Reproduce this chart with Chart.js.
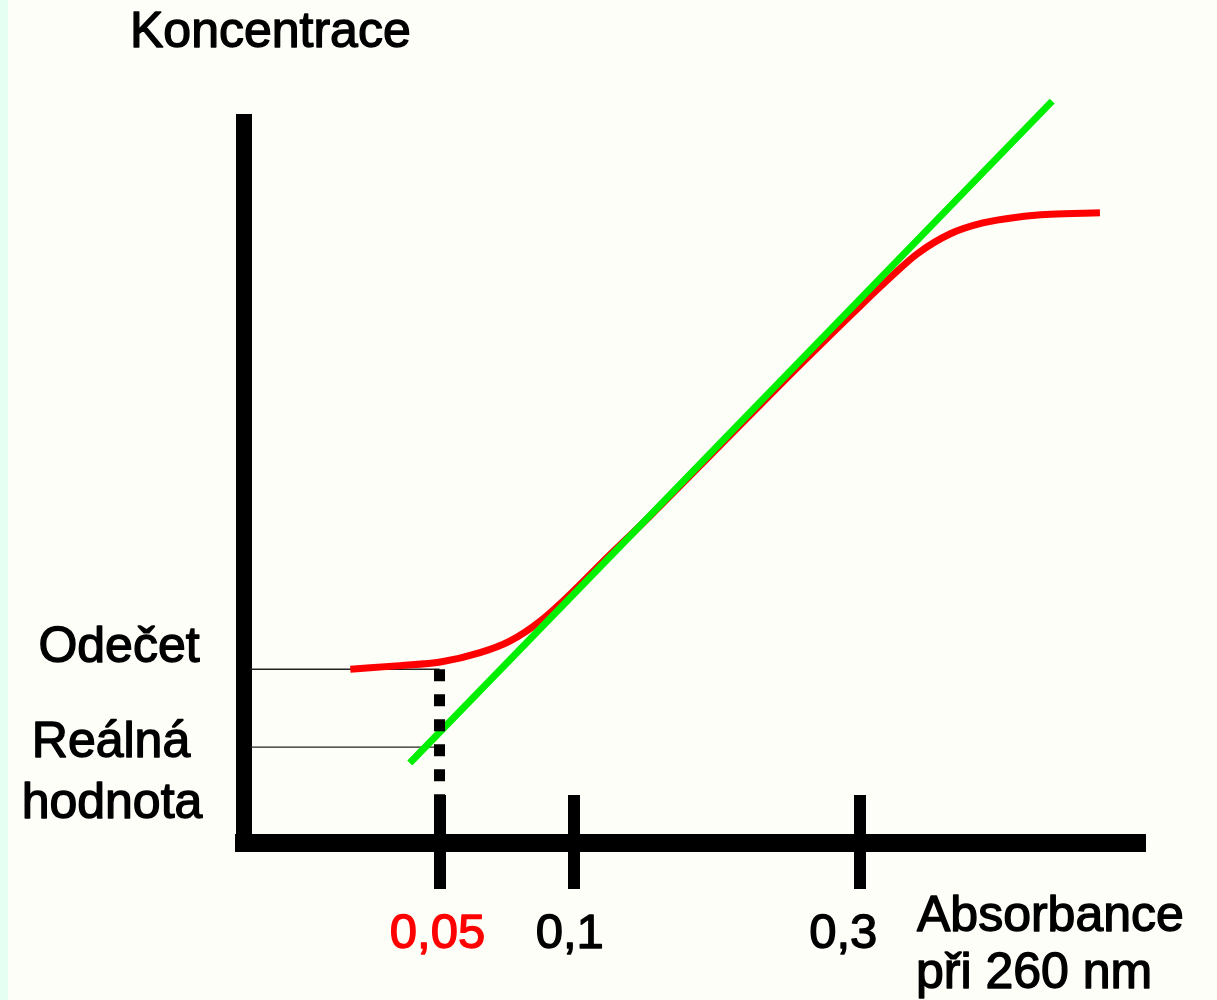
<!DOCTYPE html>
<html>
<head>
<meta charset="utf-8">
<script src="https://cdn.jsdelivr.net/npm/chart.js@4/dist/chart.umd.min.js"></script>
<style>
  html, body { margin: 0; padding: 0; }
  body {
    width: 1217px; height: 1000px; overflow: hidden;
    background: linear-gradient(to right, #e6fff3 0, #e6fff3 8px, #fefef9 8px);
  }
  canvas { display: block; }
</style>
</head>
<body>
<canvas id="chart" width="1217" height="1000"></canvas>
<script>
// Schematic absorbance axis: positions in arbitrary units (0–100), labelled with absorbance
const xTickValues = [21.7, 36.6, 68.4];
const xTickLabels = ['0,05', '0,1', '0,3'];

// Measured calibration curve (red): flattens at low and high absorbance
const curveX = [11.8, 17.3, 21.8, 26.2, 29.5, 32.9, 36.2, 39.5, 45.1, 52.8, 61.7, 68.4, 71.7, 74.7, 78.4, 82.0, 85.8, 89.5, 95.0];
const curveY = [24.1, 24.6, 25.1, 26.4, 28.0, 30.8, 34.5, 38.6, 45.4, 55.1, 66.3, 74.5, 78.4, 81.7, 84.5, 86.0, 86.8, 87.2, 87.4];

// Ideal linear relation (green)
const lineX = [18.4, 89.7];
const lineY = [11.1, 102.9];

const readValue = 24.1;   // Odečet
const realValue = 13.3;   // Reálná hodnota

const FONT = '"Liberation Sans", Arial, sans-serif';
const tickLabelColors = ['#ff0000', '#000000', '#000000'];
const tickLabelShift = [-2, -4, -17];

const toPoints = (xs, ys) => xs.map((x, i) => ({ x, y: ys[i] }));

// Slightly heavier text: fill plus a thin outline in the same colour
function heavyText(ctx, text, x, y, color) {
  ctx.fillStyle = color;
  ctx.strokeStyle = color;
  ctx.lineWidth = 1.4;
  ctx.lineJoin = 'round';
  ctx.fillText(text, x, y);
  ctx.strokeText(text, x, y);
}

const annotations = {
  id: 'annotations',
  afterDatasetsDraw(chart) {
    const { ctx, scales: { x, y } } = chart;
    const axisY = y.getPixelForValue(0);
    ctx.save();
    // tick marks crossing the absorbance axis
    ctx.fillStyle = '#000';
    x.ticks.forEach((t) => {
      const px = x.getPixelForValue(t.value);
      ctx.fillRect(Math.round(px - 6), axisY - 48, 12, 94);
    });
    // tick labels
    ctx.font = `49px ${FONT}`;
    ctx.textAlign = 'center';
    ctx.textBaseline = 'alphabetic';
    x.ticks.forEach((t, i) => {
      heavyText(ctx, xTickLabels[i], x.getPixelForValue(t.value) + tickLabelShift[i], axisY + 105, tickLabelColors[i]);
    });
    // axis titles
    ctx.font = `50px ${FONT}`;
    ctx.textAlign = 'left';
    heavyText(ctx, 'Koncentrace', 130, 47, '#000');
    heavyText(ctx, 'Absorbance', 917, 931, '#000');
    heavyText(ctx, 'při 260 nm', 916, 988, '#000');
    // concentration labels
    ctx.textAlign = 'center';
    const readPx = y.getPixelForValue(readValue);
    const realPx = y.getPixelForValue(realValue);
    heavyText(ctx, 'Odečet', 119, readPx - 7, '#000');
    heavyText(ctx, 'Reálná', 111, realPx + 10, '#000');
    heavyText(ctx, 'hodnota', 112, realPx + 71, '#000');
    ctx.restore();
  }
};

new Chart(document.getElementById('chart'), {
  type: 'line',
  data: {
    datasets: [
      {
        label: 'Absorbance 0,05',
        data: [{ x: xTickValues[0], y: readValue }, { x: xTickValues[0], y: 0 }],
        borderColor: '#000',
        borderWidth: 11,
        borderDash: [12, 13],
        borderCapStyle: 'butt',
        pointRadius: 0,
        order: 0
      },
      {
        label: 'Lineární závislost',
        data: toPoints(lineX, lineY),
        borderColor: '#00ee00',
        borderWidth: 7,
        pointRadius: 0,
        clip: false,
        order: 1
      },
      {
        label: 'Kalibrační křivka',
        data: toPoints(curveX, curveY),
        borderColor: '#ff0000',
        borderWidth: 7,
        borderCapStyle: 'butt',
        cubicInterpolationMode: 'monotone',
        pointRadius: 0,
        order: 2
      },
      {
        label: 'Odečet',
        data: [{ x: 0.7, y: readValue }, { x: xTickValues[0], y: readValue }],
        borderColor: '#222',
        borderWidth: 1.3,
        pointRadius: 0,
        order: 3
      },
      {
        label: 'Reálná hodnota',
        data: [{ x: 0.7, y: realValue }, { x: xTickValues[0], y: realValue }],
        borderColor: '#222',
        borderWidth: 1.3,
        pointRadius: 0,
        order: 3
      }
    ]
  },
  options: {
    responsive: false,
    animation: false,
    devicePixelRatio: 1,
    layout: { padding: { left: 244, right: 72, top: 122, bottom: 157 } },
    plugins: {
      legend: { display: false },
      tooltip: { enabled: false },
      title: { display: false }
    },
    scales: {
      x: {
        type: 'linear',
        min: 0,
        max: 100,
        afterBuildTicks: (scale) => { scale.ticks = xTickValues.map((v) => ({ value: v })); },
        ticks: { display: false },
        grid: { display: false, drawTicks: false },
        border: { display: true, color: '#000', width: 18 }
      },
      y: {
        type: 'linear',
        min: 0,
        max: 100,
        ticks: { display: false },
        grid: { display: false, drawTicks: false },
        border: { display: true, color: '#000', width: 16 }
      }
    }
  },
  plugins: [annotations]
});
</script>
</body>
</html>
